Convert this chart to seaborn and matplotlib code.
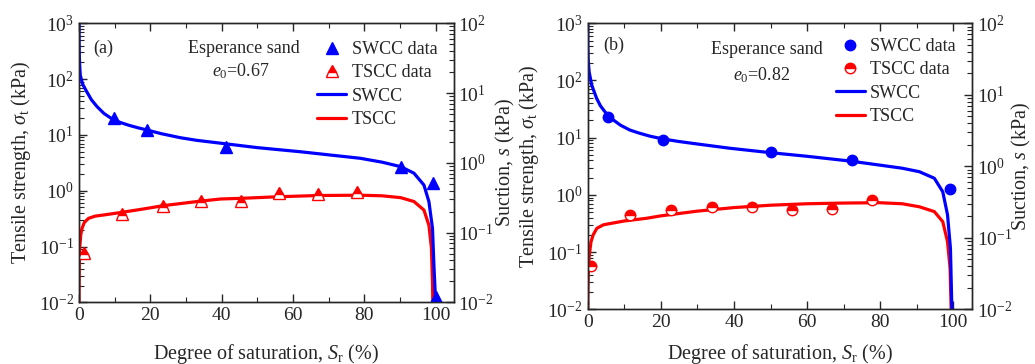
import numpy as np
import pandas as pd
import matplotlib
matplotlib.use("Agg")
import matplotlib.pyplot as plt
from matplotlib.ticker import LogLocator, MultipleLocator, NullFormatter
import seaborn as sns

# ---------------- data ----------------
# Panel (a), e0 = 0.67
a_swcc_data_sr = [9.7, 19.1, 41.3, 90.4, 99.3, 100.1]
a_swcc_data_s = [4.35, 3.0, 1.67, 0.88, 0.52, 0.012]
a_tscc_data_sr = [1.3, 12.1, 23.5, 34.1, 45.5, 56.2, 67.1, 78.0]
a_tscc_data_t = [0.075, 0.38, 0.54, 0.66, 0.66, 0.90, 0.87, 0.95]

a_swcc_sr = [0.0, 0.05, 0.15, 0.36, 1.0, 2.2, 3.5, 5.05, 7.0, 9.3, 11.5, 14.0, 16.5, 19.1, 23.0,
             28.4, 33.0, 39.7, 50.0, 62.1, 70.0, 78.9, 85.0, 90.2, 93.9, 96.7, 98.1, 99.1, 99.5, 100.0]
a_swcc_s = [100.0, 45.0, 28.0, 18.1, 13.5, 10.4, 8.0, 6.4, 5.1, 4.25, 3.8, 3.45, 3.18, 2.95, 2.62,
            2.29, 2.10, 1.91, 1.65, 1.44, 1.30, 1.16, 1.02, 0.88, 0.71, 0.48, 0.277, 0.115, 0.034, 0.0095]

a_tscc_sr = [0.0, 0.1, 0.2, 0.5, 0.84, 1.5, 2.7, 4.5, 6.9, 12.1, 18.0, 23.7, 34.0, 39.7,
             45.5, 56.0, 67.0, 79.0, 85.0, 90.2, 93.9, 96.7, 98.1, 98.8, 99.1, 99.2]
a_tscc_t = [0.0095, 0.05, 0.093, 0.16, 0.21, 0.27, 0.32, 0.35, 0.367, 0.41, 0.47, 0.54, 0.65, 0.71,
            0.73, 0.78, 0.82, 0.83, 0.81, 0.75, 0.64, 0.45, 0.24, 0.093, 0.023, 0.0095]

# Panel (b), e0 = 0.82
b_swcc_data_sr = [5.6, 20.5, 50.1, 72.3, 99.1]
b_swcc_data_s = [4.85, 2.34, 1.57, 1.23, 0.48]
b_tscc_data_sr = [0.9, 11.7, 22.8, 33.9, 44.9, 55.9, 66.8, 77.8]
b_tscc_data_t = [0.058, 0.446, 0.545, 0.607, 0.62, 0.545, 0.56, 0.815]

b_swcc_sr = [0.0, 0.05, 0.15, 0.4, 1.1, 2.45, 3.5, 4.7, 5.8, 7.0, 9.0, 11.5, 14.0, 17.0, 20.6,
             25.0, 30.0, 38.8, 50.0, 60.0, 72.0, 79.8, 86.0, 90.7, 94.8, 97.1, 98.4, 99.2, 99.6]
b_swcc_s = [100.0, 45.0, 30.0, 21.0, 13.7, 8.9, 7.0, 5.8, 5.05, 4.45, 3.75, 3.22, 2.92, 2.64, 2.41,
            2.22, 2.05, 1.79, 1.55, 1.38, 1.18, 1.04, 0.94, 0.84, 0.68, 0.44, 0.21, 0.071, 0.0095]

b_tscc_sr = [0.0, 0.1, 0.25, 0.45, 0.9, 1.5, 2.5, 4.3, 10.0, 16.1, 20.0, 30.0, 40.0, 50.0,
             60.0, 70.0, 79.8, 86.0, 90.7, 94.8, 97.1, 98.4, 99.1, 99.4]
b_tscc_t = [0.0095, 0.03, 0.06, 0.089, 0.15, 0.2, 0.26, 0.30, 0.35, 0.39, 0.43, 0.52, 0.60, 0.66,
            0.70, 0.72, 0.73, 0.70, 0.62, 0.51, 0.34, 0.152, 0.052, 0.0095]

panel_tags = ["(a)", "(b)"]
void_ratios = ["0.67", "0.82"]
material = "Esperance sand"
legend_labels = ["SWCC data", "TSCC data", "SWCC", "TSCC"]

# ---------------- style ----------------
sns.set_style("ticks")
plt.rcParams["font.family"] = ["Liberation Serif", "DejaVu Serif"]
plt.rcParams["mathtext.fontset"] = "custom"
plt.rcParams["mathtext.rm"] = "Liberation Serif"
plt.rcParams["mathtext.it"] = "Liberation Serif:italic"
plt.rcParams["mathtext.bf"] = "Liberation Serif:bold"
plt.rcParams["axes.linewidth"] = 1.0
FS_TICK = 14
FS_LABEL = 14.5
FS_TEXT = 13

BLUE = "#0000ff"
RED = "#ff0000"

fig = plt.figure(figsize=(10.35, 3.64), dpi=100)
axes_boxes = [
    [0.0763, 0.1695, 0.3619, 0.7665],
    [0.5678, 0.1503, 0.3710, 0.7857],
]

panels = [
    dict(swcc_sr=a_swcc_sr, swcc_s=a_swcc_s, tscc_sr=a_tscc_sr, tscc_t=a_tscc_t,
         sd_sr=a_swcc_data_sr, sd_s=a_swcc_data_s, td_sr=a_tscc_data_sr, td_t=a_tscc_data_t,
         marker="^", msize=8.5, tag_xy=(0.038, 0.911), mat_xy=(0.441, 0.911), e_xy=(0.431, 0.830),
         leg_xy=(0.636, 0.937), ylab_x=-0.122, y2lab_x=1.108, xlab_y=-0.142),
    dict(swcc_sr=b_swcc_sr, swcc_s=b_swcc_s, tscc_sr=b_tscc_sr, tscc_t=b_tscc_t,
         sd_sr=b_swcc_data_sr, sd_s=b_swcc_data_s, td_sr=b_tscc_data_sr, td_t=b_tscc_data_t,
         marker="o", msize=7.5, tag_xy=(0.040, 0.924), mat_xy=(0.467, 0.907), e_xy=(0.454, 0.819),
         leg_xy=(0.646, 0.948), ylab_x=-0.121, y2lab_x=1.101, xlab_y=-0.114),
]

for i, (box, p) in enumerate(zip(axes_boxes, panels)):
    ax = fig.add_axes(box)
    ax2 = ax.twinx()

    # TSCC on the left (tensile strength) axis
    sns.lineplot(x=p["tscc_sr"], y=p["tscc_t"], ax=ax, color=RED, lw=2.3,
                 sort=False, estimator=None, legend=False)
    tscc_line = ax.lines[-1]
    sns.lineplot(x=p["td_sr"], y=p["td_t"], ax=ax, color=RED, linestyle="",
                 marker=p["marker"], markersize=p["msize"], fillstyle="top",
                 markerfacecolor=RED, markerfacecoloralt="white",
                 markeredgecolor=RED, markeredgewidth=1.0,
                 sort=False, estimator=None, legend=False)
    tscc_pts = ax.lines[-1]

    # SWCC on the right (suction) axis
    sns.lineplot(x=p["swcc_sr"], y=p["swcc_s"], ax=ax2, color=BLUE, lw=2.3,
                 sort=False, estimator=None, legend=False)
    swcc_line = ax2.lines[-1]
    sns.lineplot(x=p["sd_sr"], y=p["sd_s"], ax=ax2, color=BLUE, linestyle="",
                 marker=p["marker"], markersize=p["msize"],
                 markerfacecolor=BLUE, markeredgecolor=BLUE, markeredgewidth=1.0,
                 sort=False, estimator=None, legend=False)
    swcc_pts = ax2.lines[-1]

    for a_, lo, hi in ((ax, 1e-2, 1e3), (ax2, 1e-2, 1e2)):
        a_.set_yscale("log")
        a_.set_ylim(lo, hi)
        a_.yaxis.set_major_locator(LogLocator(base=10, numticks=10))
        a_.yaxis.set_minor_locator(LogLocator(base=10, subs=np.arange(2, 10), numticks=20))
        a_.yaxis.set_minor_formatter(NullFormatter())
    ax.set_xlim(0, 105)
    ax.xaxis.set_major_locator(MultipleLocator(20))
    ax.xaxis.set_minor_locator(MultipleLocator(10))

    ax.tick_params(which="both", direction="in", top=True, right=False, labelsize=FS_TICK)
    ax.tick_params(which="major", length=6, width=1.0)
    ax.tick_params(which="minor", length=3.5, width=0.8)
    ax2.tick_params(which="both", direction="in", labelsize=FS_TICK)
    ax2.tick_params(which="major", length=6, width=1.0)
    ax2.tick_params(which="minor", length=3.5, width=0.8)

    ax.set_xlabel(r"Degree of saturation, $S_\mathrm{r}$ (%)", fontsize=FS_LABEL)
    ax.set_ylabel(r"Tensile strength, $\sigma_\mathrm{t}$ (kPa)", fontsize=FS_LABEL)
    ax2.set_ylabel(r"Suction, $s$ (kPa)", fontsize=FS_LABEL)
    ax.xaxis.set_label_coords(0.5, p["xlab_y"])
    ax.yaxis.set_label_coords(p["ylab_x"], 0.5)
    ax2.yaxis.set_label_coords(p["y2lab_x"], 0.5)

    ax.text(*p["tag_xy"], panel_tags[i], transform=ax.transAxes, fontsize=FS_TEXT,
            ha="left", va="center")
    ax.text(*p["mat_xy"], material, transform=ax.transAxes, fontsize=FS_TEXT,
            ha="center", va="center")
    ax.text(*p["e_xy"], r"$e_0$=" + void_ratios[i], transform=ax.transAxes, fontsize=FS_TEXT,
            ha="center", va="center")

    ax2.legend([swcc_pts, tscc_pts, swcc_line, tscc_line], legend_labels,
               loc="upper left", bbox_to_anchor=p["leg_xy"], frameon=False,
               fontsize=FS_TEXT, borderpad=0, borderaxespad=0, handlelength=1.6,
               handletextpad=0.3, labelspacing=0.35, numpoints=1)

fig.savefig("out.png", dpi=100)
